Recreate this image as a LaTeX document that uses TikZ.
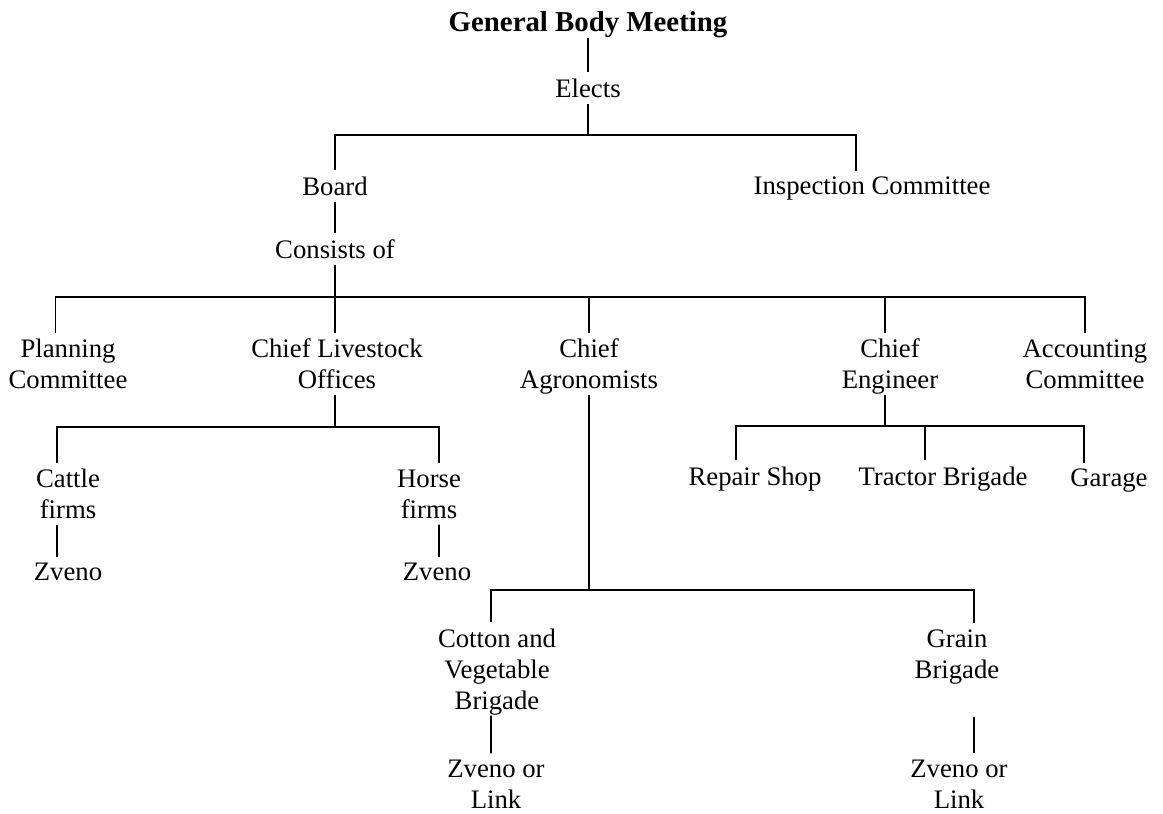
\documentclass[tikz,border=0pt]{standalone}
\usepackage{fontspec}
\setmainfont{Liberation Serif}
\begin{document}
\begin{tikzpicture}[x=0.025cm, y=-0.025cm,
        txt/.style={font=\fontsize{19}{22}\selectfont, align=center, inner xsep=2pt, inner ysep=4.3pt, text depth=0pt},
        head/.style={txt, font=\fontsize{20.5}{24}\selectfont\bfseries},
        link/.style={line width=1.3pt}
    ]
        \useasboundingbox (0,0) rectangle (1163,814);

        % top of the tree
        \node[head] (gbm) at (588,22) {General Body Meeting};
        \node[txt] (elects) at (588,88) {Elects};
        \node[txt] (board) at (335,186) {Board};
        \node[txt] (insp) at (872,186) {Inspection Committee};
        \node[txt] (cons) at (335,249) {Consists of};

        % members of the board
        \node[txt] (plan) at (68,364) {Planning\\Committee};
        \node[txt] (live) at (337,364) {Chief Livestock\\Offices};
        \node[txt] (agro) at (589,364) {Chief\\Agronomists};
        \node[txt] (eng) at (890,364) {Chief\\Engineer};
        \node[txt] (acc) at (1085,364) {Accounting\\Committee};

        \node[txt] (cattle) at (68,494) {Cattle\\firms};
        \node[txt] (horse) at (429,494) {Horse\\firms};
        \node[txt] (zv1) at (68,572) {Zveno};
        \node[txt] (zv2) at (437,572) {Zveno};

        \node[txt] (repair) at (755,476) {Repair Shop};
        \node[txt] (tractor) at (943,476) {Tractor Brigade};
        \node[txt] (garage) at (1109,478) {Garage};

        \node[txt] (cotton) at (497,669) {Cotton and\\Vegetable\\Brigade};
        \node[txt] (grain) at (957,654) {Grain\\Brigade};
        \node[txt] (zl1) at (496,784) {Zveno or\\Link};
        \node[txt] (zl2) at (959,784) {Zveno or\\Link};

        % junctions
        \coordinate (j1) at (588,135);
        \coordinate (j2) at (335,297);
        \coordinate (j3) at (335,427);
        \coordinate (j4) at (885,426);
        \coordinate (j5) at (589,590);

        \draw[link] (gbm) -- (elects);
        \draw[link] (elects) -- (j1);
        \draw[link] (board.north) |- (j1) -| ([xshift=-0.4cm]insp.north);
        \draw[link] (board) -- (cons);
        \draw[link] (cons) -- (j2);
        \draw[link] ([xshift=-0.3125cm]plan.north) |- (j2) -| (acc.north);
        \draw[link] (j2) -- (j2 |- live.north);
        \draw[link] (agro.north) -- (agro.north |- j2);
        \draw[link] ([xshift=-0.125cm]eng.north) -- ([xshift=-0.125cm]eng.north |- j2);

        \draw[link] (j3 |- live.south) -- (j3);
        \draw[link] ([xshift=-0.275cm]cattle.north) |- (j3) -| ([xshift=0.25cm]horse.north);
        \draw[link] ([xshift=-0.275cm]cattle.south) -- ([xshift=-0.275cm]zv1.north);
        \draw[link] ([xshift=0.25cm]horse.south) -- ([xshift=0.05cm]zv2.north);

        \draw[link] (j4 |- eng.south) -- (j4);
        \draw[link] ([xshift=-0.475cm]repair.north) |- (j4) -| ([xshift=-0.625cm]garage.north);
        \draw[link] ([xshift=-0.45cm]tractor.north) -- ([xshift=-0.45cm]tractor.north |- j4);

        \draw[link] (j5 |- agro.south) -- (j5);
        \draw[link] ([xshift=-0.15cm]cotton.north) |- (j5) -| ([xshift=0.425cm]grain.north);
        \draw[link] ([xshift=-0.15cm]cotton.south) -- ([xshift=-0.125cm]zl1.north);
        \draw[link] ([xshift=0.375cm]zl2.north) -- ++(0,-36);
    \end{tikzpicture}
\end{document}
